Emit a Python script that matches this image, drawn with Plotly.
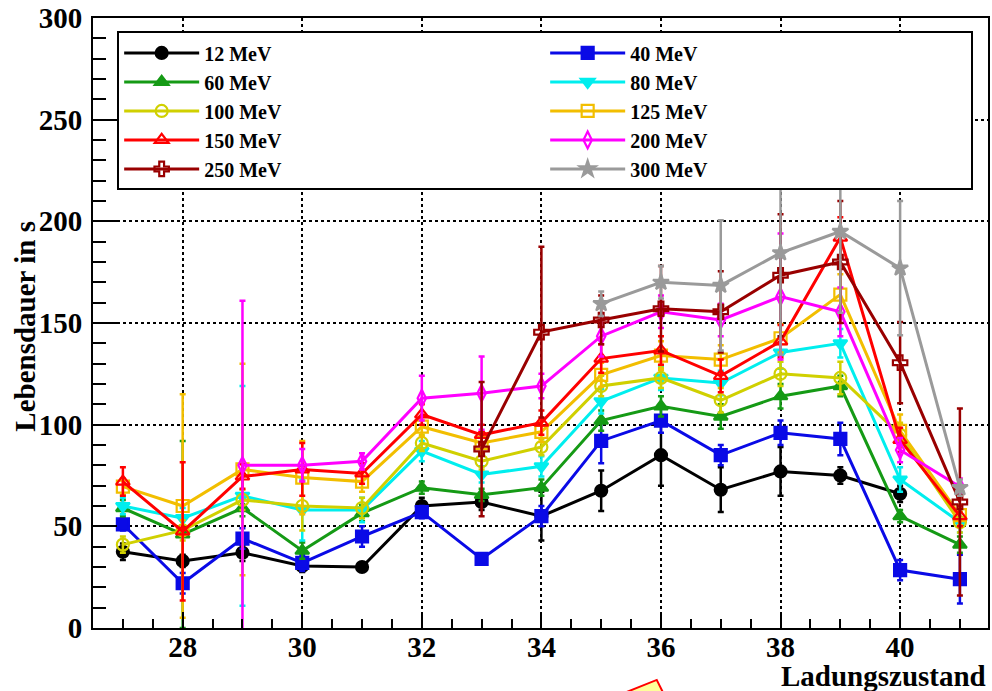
import plotly.graph_objects as go

charge = [27, 28, 29, 30, 31, 32, 33, 34, 35, 36, 37, 38, 39, 40, 41]

series_names = ["12 MeV", "40 MeV", "60 MeV", "80 MeV", "100 MeV",
                "125 MeV", "150 MeV", "200 MeV", "250 MeV", "300 MeV"]

N = None
v12 = [37.5, 33, 37, 30.5, 30, 60, 62, 55, 67.5, 85, 68, 77, 75, 66, N]
e12 = [4, 3, 4, 3, 2, 4, 4, 12, 10, 15, 11, 12, 4, 4, 0]
v40 = [51, 22, 44, 32, 45, 57, 34, 55, 92, 102, 85, 96, 93, 28.5, 24]
e40 = [3, 5, 5, 4, 5, 3, 2, 5, 11, 6, 5, 6, 8, 5, 12]
v60 = [59, 46, 59, 38, 56.5, 69, 65.5, 69, 102, 109, 104, 114, 119, 55, 41]
e60 = [4, 46, 4, 4, 4, 3, 3, 4, 5, 5, 6, 6, 5, 3, 4]
v80 = [60, 54, 65, 58, 58, 87, 75.5, 79.5, 111.5, 123, 120.5, 135.5, 140, 73, 52]
e80 = [4, 5, 54, 15, 6, 5, 4, 5, 6, 6, 6, 8, 7, 6, 5]
v100 = [41, 48, 63, 60, 59, 91, 82, 89, 119, 123, 112, 125, 123, 95, 52]
e100 = [4, 5, 5, 12, 5, 4, 4, 4, 5, 5, 6, 6, 8, 6, 5]
v125 = [69.5, 60, 78, 74, 72, 99, 91, 96.5, 124.5, 134, 132, 142.5, 164, 97, 55.5]
e125 = [4, 55, 52, 18, 5, 5, 5, 5, 6, 7, 7, 7, 10, 8, 5]
v150 = [72, 47.5, 74.5, 78, 76, 105, 95, 101, 132.5, 136.5, 124, 141, 192, 92.5, 55]
e150 = [7, 34, 6, 13, 5, 5, 5, 6, 7, 7, 8, 8, 10, 6, 5]
v200 = [N, N, 80, 80, 82, 113, 115.5, 119, 143.5, 155.5, 151.5, 163, 155.5, 87.5, 69.5]
e200 = [0, 0, 81, 8, 4, 11, 18, 6, 10, 8, 8, 31, 12, 6, 4]
v250 = [N, N, N, N, N, N, 88, 145.5, 151.5, 157, 155.5, 173.5, 180, 130.5, 62]
e250 = [0, 0, 0, 0, 0, 0, 33, 42, 12, 21, 20, 30, 30, 20, 46]
v300 = [N, N, N, N, N, N, N, N, 159.5, 170, 168.5, 184.5, 195, 177, 69]
e300 = [0, 0, 0, 0, 0, 0, 0, 0, 6, 8, 32, 50, 40, 33, 4]

values = [v12, v40, v60, v80, v100, v125, v150, v200, v250, v300]
errors = [e12, e40, e60, e80, e100, e125, e150, e200, e250, e300]
colors = ["#000000", "#0a0ae6", "#159a15", "#00eeee", "#d0d000",
          "#f2be00", "#ff0000", "#ff00ff", "#990000", "#9a9a9a"]
symbols = ["circle", "square", "triangle-up", "triangle-down", "circle-open",
           "square-open", "triangle-up-open", "diamond-tall-open", "cross-open", "star"]

serif = "Liberation Serif"

fig = go.Figure()
for name, v, e, c, s in zip(series_names, values, errors, colors, symbols):
    xs = [x for x, y in zip(charge, v) if y is not None]
    ys = [y for y in v if y is not None]
    es = [err for err, y in zip(e, v) if y is not None]
    fig.add_trace(go.Scatter(
        x=xs, y=ys, name=name, mode="lines+markers",
        line=dict(color=c, width=3),
        marker=dict(symbol=s, size=12, color=c, line=dict(color=c, width=2.2)),
        error_y=dict(type="data", array=es, visible=True, color=c, thickness=2.5, width=3),
    ))

axis_font = dict(family=serif, size=29, color="black", weight="bold")

fig.update_layout(
    width=992, height=691,
    margin=dict(l=93, r=2, t=17, b=63),
    paper_bgcolor="white", plot_bgcolor="white",
    showlegend=True,
    legend=dict(
        orientation="h", x=0.027, y=0.978, xanchor="left", yanchor="top",
        entrywidth=336, itemwidth=75, bgcolor="white", bordercolor="black", borderwidth=2,
        font=dict(family=serif, size=20, color="black", weight="bold"),
        traceorder="normal",
    ),
    xaxis=dict(
        range=[26.5, 41.47], tickvals=[28, 30, 32, 34, 36, 38, 40],
        ticks="inside", ticklen=16, tickwidth=2, tickcolor="black",
        minor=dict(dtick=0.5, tick0=26.5, ticks="inside", ticklen=9, tickwidth=2,
                   tickcolor="black", showgrid=False),
        showgrid=True, gridcolor="black", griddash="dot", gridwidth=1.5,
        showline=True, linecolor="black", linewidth=2, mirror=True,
        tickfont=axis_font, ticklabelstandoff=-8, zeroline=False,
    ),
    yaxis=dict(
        range=[0, 300], dtick=50, tick0=0,
        ticks="inside", ticklen=24, tickwidth=2, tickcolor="black",
        minor=dict(dtick=10, ticks="inside", ticklen=13, tickwidth=2,
                   tickcolor="black", showgrid=False),
        showgrid=True, gridcolor="black", griddash="dot", gridwidth=1.5,
        showline=True, linecolor="black", linewidth=2, mirror=True,
        tickfont=axis_font, ticklabelstandoff=3, zeroline=False,
    ),
)

fig.add_annotation(text="Ladungszustand", xref="paper", yref="paper",
                   x=(990 - 93) / 897, y=(628 - 676) / 611, xanchor="right", yanchor="middle",
                   showarrow=False, font=dict(family=serif, size=29, color="black", weight="bold"))
fig.add_annotation(text="Lebensdauer in s", xref="paper", yref="paper",
                   x=(25 - 93) / 897, y=(628 - 326) / 611, xanchor="center", yanchor="middle",
                   textangle=-90, showarrow=False,
                   font=dict(family=serif, size=29, color="black", weight="bold"))

def px(xp, yp):
    return (xp - 93) / 897, (628 - yp) / 611

p1, p2, p3 = px(628, 692), px(658, 680), px(664, 692)
fig.add_shape(type="path", xref="paper", yref="paper",
              path=f"M {p1[0]} {p1[1]} L {p2[0]} {p2[1]} L {p3[0]} {p3[1]} Z",
              fillcolor="#ffff99", line=dict(color="red", width=2))

fig.write_html("out.html")
